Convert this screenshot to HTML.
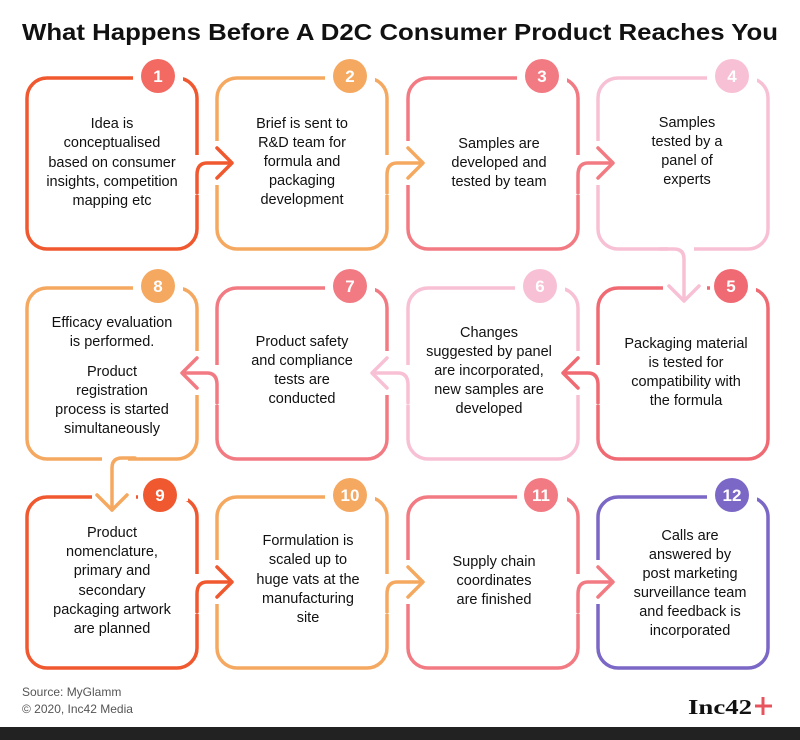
<!DOCTYPE html>
<html><head><meta charset="utf-8"><style>
html,body{margin:0;padding:0;background:#fff;}
svg{display:block;}
text{font-family:"Liberation Sans",sans-serif;}
.t{font-size:14.5px;fill:#111;text-anchor:middle;}
.b{font-size:17px;font-weight:bold;fill:#fff;text-anchor:middle;}
</style></head><body>
<svg width="800" height="740" viewBox="0 0 800 740" xmlns="http://www.w3.org/2000/svg">
<rect width="800" height="740" fill="#fff"/>
<text x="400" y="40" font-size="23.5" font-weight="bold" fill="#111" text-anchor="middle" textLength="756" lengthAdjust="spacingAndGlyphs">What Happens Before A D2C Consumer Product Reaches You</text>

<g fill="none" stroke-width="3.5">
<rect x="27" y="78" width="170" height="171" rx="20" stroke="#f0582f"/>
<rect x="217" y="78" width="170" height="171" rx="20" stroke="#f5a860"/>
<rect x="408" y="78" width="170" height="171" rx="20" stroke="#f27a82"/>
<rect x="598" y="78" width="170" height="171" rx="20" stroke="#f8c0d4"/>
<rect x="27" y="288" width="170" height="171" rx="20" stroke="#f5a860"/>
<rect x="217" y="288" width="170" height="171" rx="20" stroke="#f27a82"/>
<rect x="408" y="288" width="170" height="171" rx="20" stroke="#f8c0d4"/>
<rect x="598" y="288" width="170" height="171" rx="20" stroke="#f06a73"/>
<rect x="27" y="497" width="170" height="171" rx="20" stroke="#f0582f"/>
<rect x="217" y="497" width="170" height="171" rx="20" stroke="#f5a860"/>
<rect x="408" y="497" width="170" height="171" rx="20" stroke="#f27a82"/>
<rect x="598" y="497" width="170" height="171" rx="20" stroke="#7b67c6"/>
</g>

<g fill="#fff">
<rect x="193" y="155" width="8" height="40"/><rect x="213" y="141" width="8" height="44"/>
<rect x="383" y="155" width="8" height="40"/><rect x="404" y="141" width="8" height="44"/>
<rect x="574" y="155" width="8" height="40"/><rect x="594" y="141" width="8" height="44"/>
<rect x="594" y="365" width="8" height="40"/><rect x="574" y="351" width="8" height="44"/>
<rect x="404" y="365" width="8" height="40"/><rect x="383" y="351" width="8" height="44"/>
<rect x="213" y="365" width="8" height="40"/><rect x="193" y="351" width="8" height="44"/>
<rect x="193" y="574" width="8" height="40"/><rect x="213" y="560" width="8" height="44"/>
<rect x="383" y="574" width="8" height="40"/><rect x="404" y="560" width="8" height="44"/>
<rect x="574" y="574" width="8" height="40"/><rect x="594" y="560" width="8" height="44"/>
<rect x="668" y="245" width="26" height="8"/><rect x="663" y="284" width="44" height="8"/>
<rect x="102" y="454" width="26" height="8"/><rect x="92" y="493" width="44" height="8"/>
<rect x="133" y="74" width="50" height="8"/><rect x="325" y="74" width="50" height="8"/>
<rect x="517" y="74" width="50" height="8"/><rect x="707" y="74" width="50" height="8"/>
<rect x="133" y="284" width="50" height="8"/><rect x="325" y="284" width="50" height="8"/>
<rect x="515" y="284" width="50" height="8"/><rect x="710" y="284" width="46" height="8"/>
<rect x="138" y="493" width="50" height="8"/><rect x="325" y="493" width="50" height="8"/>
<rect x="517" y="493" width="50" height="8"/><rect x="707" y="493" width="50" height="8"/>
</g>

<g fill="none" stroke-width="3.5" stroke-linecap="round" stroke-linejoin="round">
<g stroke="#f0582f"><path d="M197,193 L197,175 Q197,163 207,163 L231,163"/><path d="M217,148 L232,163 L217,178"/></g>
<g stroke="#f5a860"><path d="M387,193 L387,175 Q387,163 397,163 L422,163"/><path d="M408,148 L423,163 L408,178"/></g>
<g stroke="#f27a82"><path d="M578,193 L578,175 Q578,163 588,163 L612,163"/><path d="M598,148 L613,163 L598,178"/></g>
<g stroke="#f8c0d4"><path d="M660,249 L674,249 Q684,249 684,259 L684,300"/><path d="M669,286 L684,301 L699,286"/></g>
<g stroke="#f06a73"><path d="M598,403 L598,385 Q598,373 588,373 L564,373"/><path d="M578,358 L563,373 L578,388"/></g>
<g stroke="#f8c0d4"><path d="M408,403 L408,385 Q408,373 398,373 L373,373"/><path d="M387,358 L372,373 L387,388"/></g>
<g stroke="#f27a82"><path d="M217,403 L217,385 Q217,373 207,373 L183,373"/><path d="M197,358 L182,373 L197,388"/></g>
<g stroke="#f5a860"><path d="M135,458 L122,458 Q112,458 112,468 L112,510"/><path d="M97,495 L112,510 L127,495"/></g>
<g stroke="#f0582f"><path d="M197,612 L197,594 Q197,582 207,582 L231,582"/><path d="M217,567 L232,582 L217,597"/></g>
<g stroke="#f5a860"><path d="M387,612 L387,594 Q387,582 397,582 L422,582"/><path d="M408,567 L423,582 L408,597"/></g>
<g stroke="#f27a82"><path d="M578,612 L578,594 Q578,582 588,582 L612,582"/><path d="M598,567 L613,582 L598,597"/></g>
</g>

<g>
<circle cx="158" cy="76" r="17" fill="#f26a62"/><text class="b" x="158" y="82">1</text>
<circle cx="350" cy="76" r="17" fill="#f5a860"/><text class="b" x="350" y="82">2</text>
<circle cx="542" cy="76" r="17" fill="#f27a82"/><text class="b" x="542" y="82">3</text>
<circle cx="732" cy="76" r="17" fill="#f8c0d4"/><text class="b" x="732" y="82">4</text>
<circle cx="731" cy="286" r="17" fill="#f06a73"/><text class="b" x="731" y="292">5</text>
<circle cx="540" cy="286" r="17" fill="#f8c0d4"/><text class="b" x="540" y="292">6</text>
<circle cx="350" cy="286" r="17" fill="#f27a82"/><text class="b" x="350" y="292">7</text>
<circle cx="158" cy="286" r="17" fill="#f5a860"/><text class="b" x="158" y="292">8</text>
<circle cx="160" cy="495" r="17" fill="#f0582f"/><text class="b" x="160" y="501">9</text>
<circle cx="350" cy="495" r="17" fill="#f5a860"/><text class="b" x="350" y="501">10</text>
<circle cx="541" cy="495" r="17" fill="#f27a82"/><text class="b" x="541" y="501">11</text>
<circle cx="732" cy="495" r="17" fill="#7b67c6"/><text class="b" x="732" y="501">12</text>
</g>

<g>
<text class="t" x="112" y="128">Idea is</text>
<text class="t" x="112" y="147">conceptualised</text>
<text class="t" x="112" y="167">based on consumer</text>
<text class="t" x="112" y="186">insights, competition</text>
<text class="t" x="112" y="205">mapping etc</text>

<text class="t" x="302" y="128">Brief is sent to</text>
<text class="t" x="302" y="147">R&amp;D team for</text>
<text class="t" x="302" y="166">formula and</text>
<text class="t" x="302" y="185">packaging</text>
<text class="t" x="302" y="204">development</text>

<text class="t" x="499" y="148">Samples are</text>
<text class="t" x="499" y="167">developed and</text>
<text class="t" x="499" y="186">tested by team</text>

<text class="t" x="687" y="127">Samples</text>
<text class="t" x="687" y="146">tested by a</text>
<text class="t" x="687" y="165">panel of</text>
<text class="t" x="687" y="184">experts</text>

<text class="t" x="112" y="327">Efficacy evaluation</text>
<text class="t" x="112" y="346">is performed.</text>
<text class="t" x="112" y="376">Product</text>
<text class="t" x="112" y="395">registration</text>
<text class="t" x="112" y="414">process is started</text>
<text class="t" x="112" y="433">simultaneously</text>

<text class="t" x="302" y="346">Product safety</text>
<text class="t" x="302" y="365">and compliance</text>
<text class="t" x="302" y="384">tests are</text>
<text class="t" x="302" y="403">conducted</text>

<text class="t" x="489" y="337">Changes</text>
<text class="t" x="489" y="356">suggested by panel</text>
<text class="t" x="489" y="375">are incorporated,</text>
<text class="t" x="489" y="394">new samples are</text>
<text class="t" x="489" y="413">developed</text>

<text class="t" x="686" y="348">Packaging material</text>
<text class="t" x="686" y="367">is tested for</text>
<text class="t" x="686" y="386">compatibility with</text>
<text class="t" x="686" y="405">the formula</text>

<text class="t" x="112" y="537">Product</text>
<text class="t" x="112" y="556">nomenclature,</text>
<text class="t" x="112" y="575">primary and</text>
<text class="t" x="112" y="595">secondary</text>
<text class="t" x="112" y="614">packaging artwork</text>
<text class="t" x="112" y="633">are planned</text>

<text class="t" x="308" y="545">Formulation is</text>
<text class="t" x="308" y="564">scaled up to</text>
<text class="t" x="308" y="584">huge vats at the</text>
<text class="t" x="308" y="603">manufacturing</text>
<text class="t" x="308" y="622">site</text>

<text class="t" x="494" y="566">Supply chain</text>
<text class="t" x="494" y="585">coordinates</text>
<text class="t" x="494" y="604">are finished</text>

<text class="t" x="690" y="540">Calls are</text>
<text class="t" x="690" y="559">answered by</text>
<text class="t" x="690" y="578">post marketing</text>
<text class="t" x="690" y="597">surveillance team</text>
<text class="t" x="690" y="616">and feedback is</text>
<text class="t" x="690" y="635">incorporated</text>
</g>

<text x="22" y="696" font-size="12" fill="#555">Source: MyGlamm</text>
<text x="22" y="713" font-size="12" fill="#555">© 2020, Inc42 Media</text>
<text x="688" y="714" font-size="21" font-weight="bold" fill="#111" style="font-family:'Liberation Serif',serif" textLength="64" lengthAdjust="spacingAndGlyphs">Inc42</text>
<path d="M763,697 L763,715 M755,706 L772,706" stroke="#e8545e" stroke-width="3" fill="none"/>
<rect x="0" y="727" width="800" height="13" fill="#222"/>
</svg>
</body></html>
